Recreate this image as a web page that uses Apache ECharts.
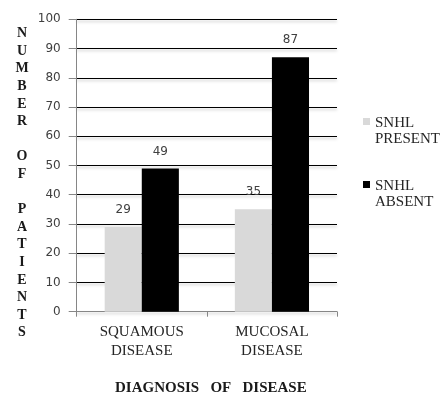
<!DOCTYPE html>
<html>
<head>
<meta charset="utf-8">
<script src="https://cdn.jsdelivr.net/npm/echarts@6/dist/echarts.min.js"></script>
<style>
html,body{margin:0;padding:0;background:#fff;}
#chart{width:447px;height:394px;}
</style>
</head>
<body>
<div id="chart"></div>
<script>
var categories = ['SQUAMOUS\nDISEASE', 'MUCOSAL\nDISEASE'];
var snhlPresent = [29, 35];
var snhlAbsent = [49, 87];
var seriesNames = ['SNHL\nPRESENT', 'SNHL\nABSENT'];
var yTicks = { min: 0, max: 100, interval: 10 };
var yTitle = '\n\nN\nU\nM\nB\nE\nR\n\nO\nF\n\nP\nA\nT\nI\nE\nN\nT\nS';
var xTitle = 'DIAGNOSIS   OF   DISEASE';

var legendIcon = 'path://M0,0h7v7h-7z M0,26h0.01v0.01h-0.01z';

var chart = echarts.init(document.getElementById('chart'), null, { renderer: 'canvas' });
var labelStyle = {
  show: true, position: 'top', distance: 11,
  fontFamily: 'DejaVu Sans', fontSize: 12, color: '#404040'
};
chart.setOption({
  backgroundColor: '#ffffff',
  animation: false,
  grid: { left: 76.7, right: 110, top: 19.3, bottom: 82.3, containLabel: false, outerBoundsMode: 'none' },
  legend: {
    orient: 'vertical', left: 358, top: 110,
    itemWidth: 7, itemHeight: 26, itemGap: 31,
    data: [
      { name: seriesNames[0], icon: legendIcon },
      { name: seriesNames[1], icon: legendIcon }
    ],
    textStyle: { fontFamily: 'Liberation Serif', fontSize: 15, lineHeight: 16, color: '#262626' }
  },
  xAxis: {
    type: 'category',
    data: categories,
    name: xTitle,
    nameLocation: 'middle',
    nameGap: 69,
    nameTextStyle: { fontFamily: 'Liberation Serif', fontWeight: 'bold', fontSize: 15, color: '#1a1a1a', padding: [0, 0, 0, 8] },
    axisLine: { show: true, lineStyle: { color: '#868686', width: 1 } },
    axisTick: { show: true, length: 5, lineStyle: { color: '#868686' } },
    axisLabel: { margin: 10.5, fontFamily: 'Liberation Serif', fontSize: 15, lineHeight: 19, color: '#262626', interval: 0 },
    splitLine: { show: false }
  },
  yAxis: {
    type: 'value',
    min: yTicks.min, max: yTicks.max, interval: yTicks.interval,
    name: yTitle,
    nameLocation: 'middle',
    nameRotate: 0,
    nameGap: 54.7,
    nameTextStyle: { fontFamily: 'Liberation Serif', fontWeight: 'bold', fontSize: 14, lineHeight: 17.6, color: '#1a1a1a', align: 'center' },
    axisLine: { show: true, lineStyle: { color: '#868686', width: 1 } },
    axisTick: { show: true, length: 8, lineStyle: { color: '#868686' } },
    axisLabel: { margin: 16, fontFamily: 'DejaVu Sans', fontSize: 12, color: '#404040' },
    splitLine: { show: true, lineStyle: { color: '#000000', width: 1, shadowColor: 'rgba(0,0,0,0.25)', shadowBlur: 3, shadowOffsetY: 2 } }
  },
  series: [
    {
      name: seriesNames[0], type: 'bar', data: snhlPresent,
      barGap: '0%', barCategoryGap: '43%',
      itemStyle: { color: '#d9d9d9' },
      label: labelStyle
    },
    {
      name: seriesNames[1], type: 'bar', data: snhlAbsent,
      barGap: '0%', barCategoryGap: '43%',
      itemStyle: { color: '#000000' },
      label: labelStyle
    }
  ]
});
</script>
</body>
</html>
